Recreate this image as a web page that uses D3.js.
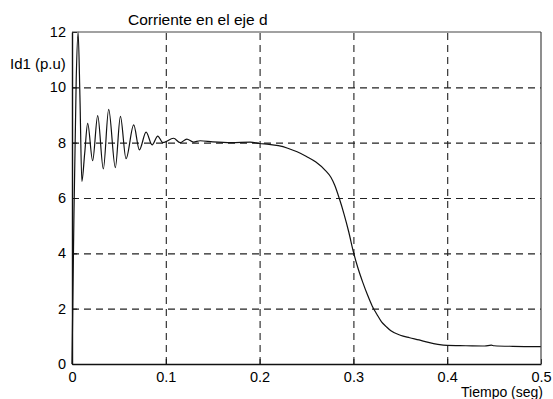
<!DOCTYPE html>
<html>
<head>
<meta charset="utf-8">
<script src="https://cdn.jsdelivr.net/npm/d3@7"></script>
<style>
  body { margin: 0; background: #fff; }
  svg { font-family: "Liberation Sans", Arial, sans-serif; }
</style>
</head>
<body>
<svg id="chart"></svg>
<script>
// Chart values
const tiempo = [0, 0.002, 0.0045, 0.0065, 0.0085, 0.0105, 0.0135, 0.0167, 0.022, 0.0274, 0.0334,
  0.0391, 0.0462, 0.0516, 0.0576, 0.0658, 0.0718, 0.079, 0.0854, 0.0914, 0.0968, 0.1083,
  0.1153, 0.1224, 0.1295, 0.1366, 0.15, 0.17, 0.19, 0.2, 0.21, 0.22, 0.23, 0.24, 0.25, 0.26,
  0.27, 0.276, 0.28, 0.285, 0.29, 0.295, 0.3, 0.305, 0.31, 0.315, 0.32, 0.325, 0.33, 0.335,
  0.34, 0.35, 0.36, 0.37, 0.38, 0.39, 0.4, 0.42, 0.44, 0.447, 0.45, 0.47, 0.5];
const id1 = [0, 5.2, 10.3, 12.0, 9.6, 6.6, 7.6, 8.7, 7.35, 8.98, 7.05,
  9.2, 7.1, 8.95, 7.42, 8.64, 7.74, 8.38, 7.92, 8.24, 8.0, 8.16,
  8.0, 8.13, 8.02, 8.07, 8.03, 8.0, 8.02, 7.97, 7.94, 7.89, 7.8, 7.67, 7.5, 7.3,
  7.0, 6.75, 6.47, 5.98, 5.42, 4.78, 4.05, 3.45, 2.95, 2.5, 2.1, 1.8, 1.52, 1.35,
  1.2, 1.04, 0.95, 0.87, 0.78, 0.71, 0.67, 0.66, 0.65, 0.68, 0.66, 0.64, 0.63];
const xTicks = [0, 0.1, 0.2, 0.3, 0.4, 0.5];
const yTicks = [0, 2, 4, 6, 8, 10, 12];

const width = 553, height = 399;
const margin = {top: 32, right: 12, bottom: 35, left: 72};
const innerW = width - margin.left - margin.right;
const innerH = height - margin.top - margin.bottom;

const data = tiempo.map((t, i) => ({t: t, v: id1[i]}));

const svg = d3.select('#chart')
    .attr('width', width)
    .attr('height', height);

const g = svg.append('g')
    .attr('transform', `translate(${margin.left},${margin.top})`);

const x = d3.scaleLinear().domain([0, 0.5]).range([0, innerW]);
const y = d3.scaleLinear().domain([0, 12]).range([innerH, 0]);

// dashed grid
const gridX = g.append('g')
    .attr('transform', `translate(0,${innerH})`)
    .call(d3.axisBottom(x).tickValues(xTicks.slice(1, -1)).tickSize(-innerH).tickFormat(''));
const gridY = g.append('g')
    .call(d3.axisLeft(y).tickValues(yTicks.slice(1, -1)).tickSize(-innerW).tickFormat(''));
[gridX, gridY].forEach(gr => {
  gr.select('.domain').remove();
  gr.selectAll('line')
      .attr('stroke', '#222')
      .attr('stroke-width', 1.1)
      .attr('stroke-dasharray', '7,5');
});

// curve
const line = d3.line()
    .x(d => x(d.t))
    .y(d => y(d.v))
    .curve(d3.curveMonotoneX);

g.append('path')
    .datum(data)
    .attr('fill', 'none')
    .attr('stroke', '#111')
    .attr('stroke-width', 1.2)
    .attr('d', line);

// axes with inward ticks
const xAxisG = g.append('g')
    .attr('transform', `translate(0,${innerH})`)
    .call(d3.axisBottom(x).tickValues(xTicks).tickSizeInner(-5).tickSizeOuter(0)
      .tickPadding(8).tickFormat(d => d3.format('')(d)));
const yAxisG = g.append('g')
    .call(d3.axisLeft(y).tickValues(yTicks).tickSizeInner(-5).tickSizeOuter(0)
      .tickPadding(6));
[xAxisG, yAxisG].forEach(ax => {
  ax.selectAll('text')
      .style('font-size', '14.5px')
      .style('font-family', '"Liberation Sans", Arial, sans-serif')
      .attr('fill', '#000');
  ax.selectAll('line').attr('stroke', '#111');
  ax.select('.domain').attr('stroke', '#111').attr('stroke-width', 1.4);
});

// box top and right
g.append('line').attr('x1', 0).attr('x2', innerW).attr('y1', 0).attr('y2', 0)
    .attr('stroke', '#444').attr('stroke-width', 1.2);
g.append('line').attr('x1', innerW).attr('x2', innerW).attr('y1', 0).attr('y2', innerH)
    .attr('stroke', '#444').attr('stroke-width', 1.2);

// labels
svg.append('text')
    .attr('x', 128)
    .attr('y', 25)
    .style('font-size', '15.5px')
    .attr('fill', '#000')
    .text('Corriente en el eje d');

svg.append('text')
    .attr('x', 10)
    .attr('y', 69)
    .style('font-size', '15px')
    .attr('fill', '#000')
    .text('Id1 (p.u)');

svg.append('text')
    .attr('x', 543)
    .attr('y', 397)
    .attr('text-anchor', 'end')
    .style('font-size', '14px')
    .attr('fill', '#000')
    .text('Tiempo (seg)');
</script>
</body>
</html>
